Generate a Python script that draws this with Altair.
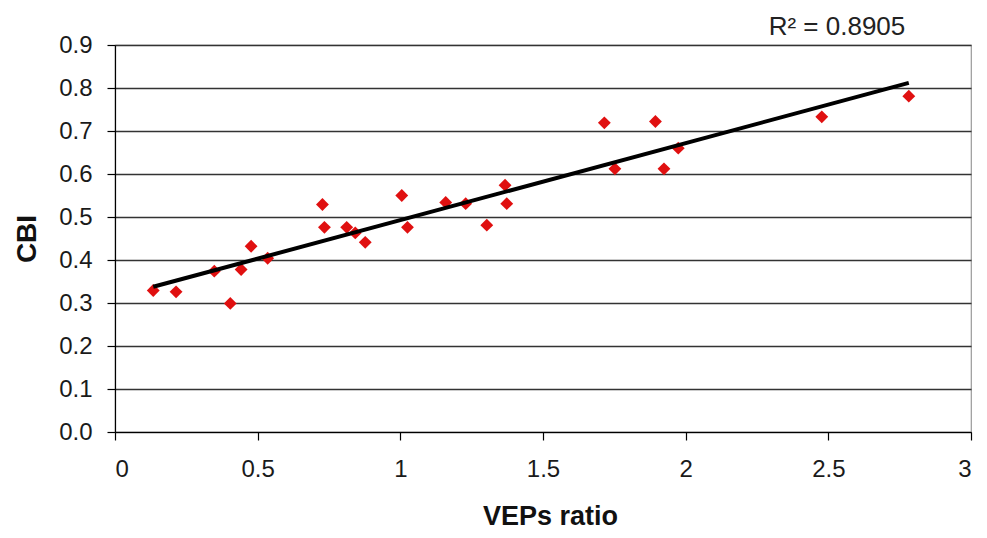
import altair as alt
import pandas as pd

# Data
vep_ratio = [0.134, 0.214, 0.348, 0.404, 0.442, 0.477, 0.535, 0.727, 0.734, 0.812,
             0.842, 0.877, 1.005, 1.025, 1.159, 1.229, 1.303, 1.367, 1.373, 1.715,
             1.752, 1.894, 1.924, 1.974, 2.477, 2.782]
cbi = [0.329, 0.326, 0.374, 0.299, 0.378, 0.432, 0.404, 0.529, 0.476, 0.476,
       0.463, 0.441, 0.550, 0.476, 0.534, 0.531, 0.481, 0.574, 0.531, 0.719,
       0.612, 0.722, 0.612, 0.660, 0.733, 0.781]
x_ticks = [0, 0.5, 1, 1.5, 2, 2.5, 3]
y_ticks = [0.0, 0.1, 0.2, 0.3, 0.4, 0.5, 0.6, 0.7, 0.8, 0.9]
r2_label = ["R\u00b2 = 0.8905"]

df = pd.DataFrame({"VEPs ratio": vep_ratio, "CBI": cbi})
ann = pd.DataFrame({"label": r2_label})

FONT = "Liberation Sans"

x_enc = alt.X(
    "VEPs ratio:Q",
    scale=alt.Scale(domain=[0, 3], nice=False, zero=False),
    axis=alt.Axis(
        values=x_ticks, format="~g", grid=False,
        domainColor="#000000", domainWidth=1.2,
        tickColor="#000000", tickSize=8, tickWidth=1.2,
        labelFontSize=24, labelFont=FONT, labelColor="#1a1a1a", labelPadding=17,
        title="VEPs ratio", titleFont=FONT, titleFontSize=27, titleFontWeight="bold",
        titleColor="#111111", titleX=435, titleY=84, titleBaseline="middle",
        titleAlign="center",
    ),
)
y_enc = alt.Y(
    "CBI:Q",
    scale=alt.Scale(domain=[0, 0.9], nice=False, zero=False),
    axis=alt.Axis(
        values=y_ticks, format=".1f", grid=True,
        gridColor="#333333", gridWidth=1.3,
        domainColor="#000000", domainWidth=1.2,
        tickColor="#000000", tickSize=8, tickWidth=1.2,
        labelFontSize=24, labelFont=FONT, labelColor="#1a1a1a", labelPadding=15,
        title="CBI", titleFont=FONT, titleFontSize=28, titleFontWeight="bold",
        titleColor="#111111", titleX=-88, titleY=193.5, titleBaseline="middle",
        titleAlign="center", titleAngle=270,
    ),
)

points = alt.Chart(df).mark_point(
    shape="diamond", filled=True, size=165, color="#e01010", opacity=1
).encode(x=x_enc, y=y_enc)

trend = alt.Chart(df).transform_regression(
    "VEPs ratio", "CBI"
).mark_line(color="#000000", strokeWidth=4).encode(
    x="VEPs ratio:Q", y="CBI:Q"
)

r2 = alt.Chart(ann).mark_text(
    font=FONT, fontSize=26, color="#222222", align="center", baseline="middle"
).encode(text="label:N", x=alt.value(722), y=alt.value(-18))

chart = alt.layer(points, trend, r2).properties(
    width=856, height=387,
    autosize=alt.AutoSizeParams(type="none"),
    padding={"left": 107, "top": 37, "right": 8, "bottom": 102},
).configure_view(stroke="#999999", strokeWidth=1.2)

chart.save("out.html", embed_options={"renderer": "svg", "actions": False})
